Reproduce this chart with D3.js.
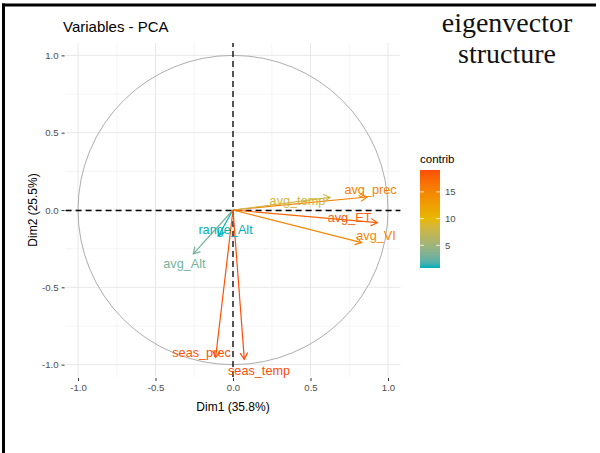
<!DOCTYPE html>
<html>
<head>
<meta charset="utf-8">
<script src="https://cdn.jsdelivr.net/npm/d3@7"></script>
<style>
  body { margin: 0; background: #fff; }
  svg { display: block; }
</style>
</head>
<body>
<script>
// variables and their loadings on the first two dims
var variables = ["avg_prec", "avg_temp", "avg_ET", "avg_VI", "range_Alt", "avg_Alt", "seas_prec", "seas_temp"];
var dim1 = [0.865, 0.626, 0.931, 0.83, -0.095, -0.256, -0.112, 0.073];
var dim2 = [0.084, 0.082, -0.082, -0.211, -0.168, -0.284, -0.953, -0.966];
var contrib = [15.4, 8.1, 17.8, 14.9, 0.76, 3.0, 18.8, 19.1];
// where the text labels sit (data units)
var labelDim1 = [0.887, 0.416, 0.752, 0.923, -0.048, -0.313, -0.203, 0.168];
var labelDim2 = [0.136, 0.065, -0.045, -0.162, -0.123, -0.343, -0.918, -1.035];

var majorTicks = [-1.0, -0.5, 0.0, 0.5, 1.0];
var minorTicks = [-0.75, -0.25, 0.25, 0.75];
var legendTicks = [5, 10, 15];
var gradientCols = ["#00AFBB", "#E7B800", "#FC4E07"];

var width = 600;
var height = 453;
var font = "'Liberation Sans', Arial, sans-serif";

var svg = d3.select("body")
    .append("svg")
    .attr("width", width)
    .attr("height", height);

// frame of the slide
svg.append("line")
    .attr("x1", 2).attr("x2", 596).attr("y1", 5).attr("y2", 5)
    .attr("stroke", "#000").attr("stroke-width", 3);
svg.append("line")
    .attr("x1", 3.5).attr("x2", 3.5).attr("y1", 3.5).attr("y2", height)
    .attr("stroke", "#000").attr("stroke-width", 3);

// slide heading
svg.append("text")
    .attr("x", 507).attr("y", 32)
    .attr("text-anchor", "middle")
    .attr("font-family", "'Liberation Serif', 'DejaVu Serif', serif")
    .attr("font-size", "28px")
    .attr("fill", "#111")
    .text("eigenvector");
svg.append("text")
    .attr("x", 507).attr("y", 63)
    .attr("text-anchor", "middle")
    .attr("font-family", "'Liberation Serif', 'DejaVu Serif', serif")
    .attr("font-size", "28px")
    .attr("fill", "#111")
    .text("structure");

// scales
var x = d3.scaleLinear().domain([-1.08, 1.08]).range([65.6, 400.4]);
var y = d3.scaleLinear().domain([-1.08, 1.08]).range([377, 43]);

var cMin = d3.min(contrib), cMax = d3.max(contrib);
var color = d3.scaleLinear()
    .domain([cMin, (cMin + cMax) / 2, cMax])
    .range(gradientCols)
    .interpolate(d3.interpolateLab);

var g = svg.append("g");

// grid
minorTicks.forEach(function(t) {
    g.append("line")
        .attr("x1", x(t)).attr("x2", x(t)).attr("y1", y.range()[0]).attr("y2", y.range()[1])
        .attr("stroke", "#f0f0f0").attr("stroke-width", 0.7);
    g.append("line")
        .attr("x1", x.range()[0]).attr("x2", x.range()[1]).attr("y1", y(t)).attr("y2", y(t))
        .attr("stroke", "#f0f0f0").attr("stroke-width", 0.7);
});
majorTicks.forEach(function(t) {
    g.append("line")
        .attr("x1", x(t)).attr("x2", x(t)).attr("y1", y.range()[0]).attr("y2", y.range()[1])
        .attr("stroke", "#e8e8e8").attr("stroke-width", 1);
    g.append("line")
        .attr("x1", x.range()[0]).attr("x2", x.range()[1]).attr("y1", y(t)).attr("y2", y(t))
        .attr("stroke", "#e8e8e8").attr("stroke-width", 1);
});

// axes
var xAxis = d3.axisBottom(x).tickValues(majorTicks).tickFormat(d3.format(".1f")).tickSize(3).tickPadding(3);
var yAxis = d3.axisLeft(y).tickValues(majorTicks).tickFormat(d3.format(".1f")).tickSize(3).tickPadding(3);

var gx = svg.append("g").attr("transform", "translate(0," + (y.range()[0] + 1) + ")").call(xAxis);
var gy = svg.append("g").attr("transform", "translate(" + (x.range()[0] - 1) + ",0)").call(yAxis);
[gx, gy].forEach(function(a) {
    a.select(".domain").remove();
    a.selectAll(".tick line").attr("stroke", "#333").attr("stroke-width", 1);
    a.selectAll(".tick text")
        .attr("fill", "#4d4d4d")
        .attr("font-family", font)
        .attr("font-size", "9.6px")
        .text(function(d) { return d3.format(".1f")(d).replace("−", "-"); });
});

// correlation circle
g.append("ellipse")
    .attr("cx", x(0)).attr("cy", y(0))
    .attr("rx", x(1) - x(0)).attr("ry", y(0) - y(1))
    .attr("fill", "none")
    .attr("stroke", "#adadad")
    .attr("stroke-width", 1);

// dashed origin lines
g.append("line")
    .attr("x1", x.range()[0]).attr("x2", x.range()[1]).attr("y1", y(0) + 0.5).attr("y2", y(0) + 0.5)
    .attr("stroke", "#000").attr("stroke-width", 1.3).attr("stroke-dasharray", "6,4");
g.append("line")
    .attr("x1", x(0)).attr("x2", x(0)).attr("y1", y.range()[0]).attr("y2", y.range()[1])
    .attr("stroke", "#000").attr("stroke-width", 1.3).attr("stroke-dasharray", "6,4");

// arrows
var headLen = 7.5;
var headAng = Math.PI / 6;
variables.forEach(function(v, i) {
    var x0 = x(0), y0 = y(0);
    var x1 = x(dim1[i]), y1 = y(dim2[i]);
    var ang = Math.atan2(y1 - y0, x1 - x0);
    var col = color(contrib[i]);
    g.append("line")
        .attr("x1", x0).attr("y1", y0).attr("x2", x1).attr("y2", y1)
        .attr("stroke", col).attr("stroke-width", 1.2);
    var p = d3.path();
    p.moveTo(x1 - headLen * Math.cos(ang - headAng), y1 - headLen * Math.sin(ang - headAng));
    p.lineTo(x1, y1);
    p.lineTo(x1 - headLen * Math.cos(ang + headAng), y1 - headLen * Math.sin(ang + headAng));
    g.append("path")
        .attr("d", p.toString())
        .attr("fill", "none")
        .attr("stroke", col).attr("stroke-width", 1.2);
});

// labels
variables.forEach(function(v, i) {
    g.append("text")
        .attr("x", x(labelDim1[i]))
        .attr("y", y(labelDim2[i]))
        .attr("dy", "0.36em")
        .attr("text-anchor", "middle")
        .attr("font-family", font)
        .attr("font-size", "12.7px")
        .attr("fill", color(contrib[i]))
        .text(v);
});

// title and axis titles
svg.append("text")
    .attr("x", 63).attr("y", 32)
    .attr("font-family", font).attr("font-size", "15px").attr("fill", "#000")
    .text("Variables - PCA");
svg.append("text")
    .attr("x", x(0)).attr("y", 411)
    .attr("text-anchor", "middle")
    .attr("font-family", font).attr("font-size", "12px").attr("fill", "#000")
    .text("Dim1 (35.8%)");
svg.append("text")
    .attr("transform", "translate(37," + y(0) + ") rotate(-90)")
    .attr("text-anchor", "middle")
    .attr("font-family", font).attr("font-size", "12px").attr("fill", "#000")
    .text("Dim2 (25.5%)");

// legend colour bar
var barX = 420, barW = 20;
var ly = d3.scaleLinear().domain([cMin, cMax]).range([268, 170]);

var defs = svg.append("defs");
var grad = defs.append("linearGradient")
    .attr("id", "contribGrad")
    .attr("x1", 0).attr("y1", 1).attr("x2", 0).attr("y2", 0);
d3.range(0, 21).forEach(function(k) {
    var t = k / 20;
    grad.append("stop")
        .attr("offset", t)
        .attr("stop-color", color(cMin + t * (cMax - cMin)));
});

svg.append("rect")
    .attr("x", barX).attr("y", ly(cMax))
    .attr("width", barW).attr("height", ly(cMin) - ly(cMax))
    .attr("fill", "url(#contribGrad)");

legendTicks.forEach(function(t) {
    svg.append("line")
        .attr("x1", barX).attr("x2", barX + 4).attr("y1", ly(t)).attr("y2", ly(t))
        .attr("stroke", "#fff").attr("stroke-width", 0.8);
    svg.append("line")
        .attr("x1", barX + barW - 4).attr("x2", barX + barW).attr("y1", ly(t)).attr("y2", ly(t))
        .attr("stroke", "#fff").attr("stroke-width", 0.8);
    svg.append("text")
        .attr("x", barX + barW + 5).attr("y", ly(t))
        .attr("dy", "0.35em")
        .attr("font-family", font).attr("font-size", "9.6px").attr("fill", "#4d4d4d")
        .text(t);
});

svg.append("text")
    .attr("x", barX).attr("y", 163)
    .attr("font-family", font).attr("font-size", "11.5px").attr("fill", "#000")
    .text("contrib");
</script>
</body>
</html>
